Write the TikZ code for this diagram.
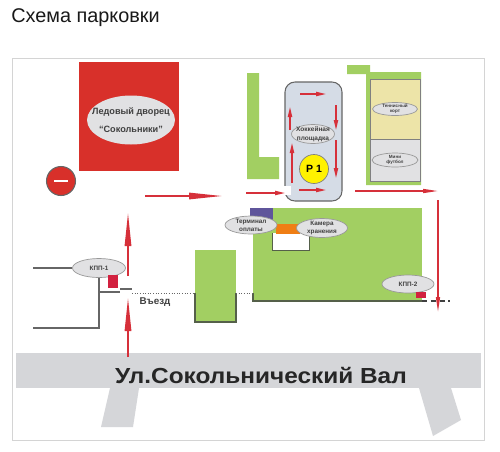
\documentclass[tikz,border=0pt]{standalone}
\usepackage{fontspec}
\setmainfont{Liberation Sans}
\usepackage{tikz}
\usetikzlibrary{arrows.meta,positioning,shapes.geometric}

\definecolor{lawn}{HTML}{A2CF62}
\definecolor{brick}{HTML}{D8302A}
\definecolor{road}{HTML}{D5D6D9}
\definecolor{plate}{HTML}{E1E1E3}
\definecolor{arrowred}{HTML}{D6303A}
\definecolor{kerb}{HTML}{55604A}
\definecolor{tennisfill}{HTML}{EDE4A8}
\definecolor{rinkfill}{HTML}{D5DCE6}
\definecolor{gatered}{HTML}{D2213F}
\definecolor{terminalfill}{HTML}{5F559B}
\definecolor{storagefill}{HTML}{EF7E14}

\begin{document}
\begin{tikzpicture}[x=0.02cm, y=-0.02cm, >=Latex]
  \tikzstyle{oval}=[ellipse, draw=gray!80, fill=plate, line width=0.4pt, inner sep=0pt]
  \tikzstyle{ovaltext}=[align=center, font=\bfseries, text=black!75, inner sep=0pt]
  \tikzstyle{longarrow}=[draw=arrowred, line width=1.2pt, -{Triangle[length=0.68cm, width=0.125cm]}]
  \tikzstyle{shortarrow}=[draw=arrowred, line width=0.8pt, -{Triangle[length=0.2cm, width=0.085cm]}]
  \tikzstyle{thinarrow}=[draw=arrowred, line width=0.8pt, -{Triangle[length=0.3cm, width=0.08cm]}]
  \useasboundingbox (0,0) rectangle (500,451);
  \fill[white] (0,0) rectangle (500,451);
  \node[anchor=west, inner sep=0pt, font=\fontsize{11.3}{13}\selectfont, text=black!90] (title) at (11,18) {Схема парковки};
  \draw[draw=black!17, line width=0.5pt] (12,58) rectangle (484,440);

  % road
  \fill[road] (16,353) rectangle (481,388);
  \fill[road] (110,388) -- (139,388) -- (133,427) -- (101,427) -- cycle;
  \fill[road] (419,388) -- (451,388) -- (461,420) -- (433,436) -- cycle;
  \node[font=\fontsize{12.4}{14}\bfseries\addfontfeatures{FakeStretch=1.12}, text=black!85, inner sep=0pt] (street) at (261,375) {Ул.Сокольнический Вал};

  % ice palace
  \fill[brick] (79,62) rectangle (179,171);
  \node[oval, draw=none, minimum width=1.76cm, minimum height=0.98cm] (palace) at (131,120) {};
  \node[ovaltext, font=\fontsize{5.2}{10}\bfseries] (palacetext) at (palace) {Ледовый дворец\\“Сокольники”};
  \node[circle, draw=black!60, fill=brick, line width=0.6pt, minimum size=0.58cm, inner sep=0pt] (noentry) at (61,181) {};
  \draw[white, line width=1pt] ([xshift=-0.14cm]noentry.center) -- ([xshift=0.14cm]noentry.center);

  % green areas
  \fill[lawn] (247,73) -- (259,73) -- (259,157) -- (279,157) -- (279,179) -- (247,179) -- cycle;
  \fill[lawn] (347,65) -- (370,65) -- (370,72) -- (421,72) -- (421,185) -- (366,185) -- (366,74) -- (347,74) -- cycle;
  \fill[lawn] (253,208) rectangle (422,301);
  \fill[lawn] (195,250) rectangle (236,322);

  % courts
  \filldraw[draw=black!50, fill=tennisfill, line width=0.4pt] (370,79) rectangle (420,139);
  \filldraw[draw=black!50, fill=plate, line width=0.4pt] (370,139) rectangle (420,181);
  \node[oval, minimum width=0.9cm, minimum height=0.26cm] (tennis) at (395,109) {};
  \node[ovaltext, font=\fontsize{2.6}{3}\bfseries] (tennistext) at (tennis) {Теннисный\\корт};
  \node[oval, minimum width=0.92cm, minimum height=0.28cm] (minifoot) at (395,160) {};
  \node[ovaltext, font=\fontsize{2.6}{3}\bfseries] (minifoottext) at (minifoot) {Мини\\футбол};

  % rink
  \filldraw[draw=black!60, fill=rinkfill, rounded corners=0.2cm, line width=0.6pt] (285,82) rectangle (342,201);
  \fill[white] (284,186) rectangle (291,195);
  \node[oval, minimum width=0.86cm, minimum height=0.38cm] (hockey) at (313,134) {};
  \node[ovaltext, font=\fontsize{3.7}{5}\bfseries] (hockeytext) at (hockey) {Хоккейная\\площадка};
  \node[circle, draw=black!50, fill=yellow, minimum size=0.58cm, inner sep=0pt, font=\fontsize{6}{7}\bfseries] (parking) at (314,169) {Р 1};

  % payment and storage
  \fill[white] (272,233) rectangle (309,250);
  \draw[draw=kerb, line width=0.5pt] (272,233) -- (272,250) -- (309,250) -- (309,236);
  \fill[terminalfill] (250,208) rectangle (273,225);
  \fill[storagefill] (276,224) rectangle (300,234);
  \node[oval, minimum width=1.04cm, minimum height=0.36cm] (terminal) at (251,225) {};
  \node[ovaltext, font=\fontsize{3.6}{4.4}\bfseries] (terminaltext) at (terminal) {Терминал\\оплаты};
  \node[oval, minimum width=1.02cm, minimum height=0.38cm] (storage) at (322,228) {};
  \node[ovaltext, font=\fontsize{3.6}{4.4}\bfseries] (storagetext) at (storage) {Камера\\хранения};

  % fences
  \coordinate (fenceA) at (33,268);
  \coordinate (fenceB) at (33,328);
  \coordinate (fenceC) at (99,328);
  \coordinate (fenceD) at (99,292);
  \coordinate (fenceE) at (120,292);
  \coordinate (fenceF) at (120,289);
  \coordinate (fenceG) at (132,289);
  \coordinate (gateL) at (132,293);
  \coordinate (blockA) at (195,293);
  \coordinate (blockB) at (195,322);
  \coordinate (blockC) at (236,322);
  \coordinate (blockD) at (236,293);
  \coordinate (lawnA) at (253,293);
  \coordinate (lawnB) at (253,301);
  \coordinate (lawnC) at (422,301);
  \coordinate (lawnD) at (450,301);
  \node[oval, minimum width=1.06cm, minimum height=0.38cm] (kpp1) at (99,268) {};
  \node[ovaltext, font=\fontsize{3.6}{4.4}\bfseries] (kpp1text) at (kpp1) {КПП-1};
  \node[oval, minimum width=1.04cm, minimum height=0.36cm] (kpp2) at (408,284) {};
  \node[ovaltext, font=\fontsize{3.6}{4.4}\bfseries] (kpp2text) at (kpp2) {КПП-2};
  \draw[black!60, line width=0.6pt] (fenceA) -- (kpp1);
  \draw[black!60, line width=0.6pt] (fenceB) -- (fenceC) -- (kpp1.south);
  \draw[black!60, line width=0.6pt] (fenceD) -- (fenceE);
  \draw[black!60, line width=0.6pt] (fenceF) -- (fenceG);
  \draw[kerb, line width=0.6pt] (blockA) -- (blockB) -- (blockC) -- (blockD);
  \draw[kerb, line width=0.6pt] (lawnA) -- (lawnB) -- (lawnC);
  \draw[black!60, densely dotted, line width=0.5pt] (gateL) -- (blockA);
  \draw[black!60, densely dotted, line width=0.5pt] (blockD) -- (lawnA);
  \draw[black!75, densely dashed, line width=0.6pt] (lawnC) -- (lawnD);
  \fill[gatered] (108,275) rectangle (118,288);
  \fill[gatered] (416,292) rectangle (426,298);
  \node[ovaltext, anchor=center, font=\fontsize{5.6}{6}\bfseries] (entry) at (155,302) {Въезд};

  % traffic arrows
  \foreach \i/\ax/\ay/\bx/\by in {a/145/196/223/196, b/128/276/128/212, c/128/357/128/297}{
    \coordinate (run\i A) at (\ax,\ay);
    \coordinate (run\i B) at (\bx,\by);
    \draw[longarrow] (run\i A) -- (run\i B);
  }
  \foreach \i/\ax/\ay/\bx/\by in {d/355/191/438/191, e/438/200/438/312}{
    \coordinate (run\i A) at (\ax,\ay);
    \coordinate (run\i B) at (\bx,\by);
    \draw[thinarrow] (run\i A) -- (run\i B);
  }
  \foreach \i/\ax/\ay/\bx/\by in {a/246/193/285/193, b/300/94/326/94, c/336/105/336/130, d/336/140/336/178, e/290/130/290/107, f/292/183/292/143, g/299/190/326/190}{
    \coordinate (lap\i A) at (\ax,\ay);
    \coordinate (lap\i B) at (\bx,\by);
    \draw[shortarrow] (lap\i A) -- (lap\i B);
  }
\end{tikzpicture}
\end{document}
